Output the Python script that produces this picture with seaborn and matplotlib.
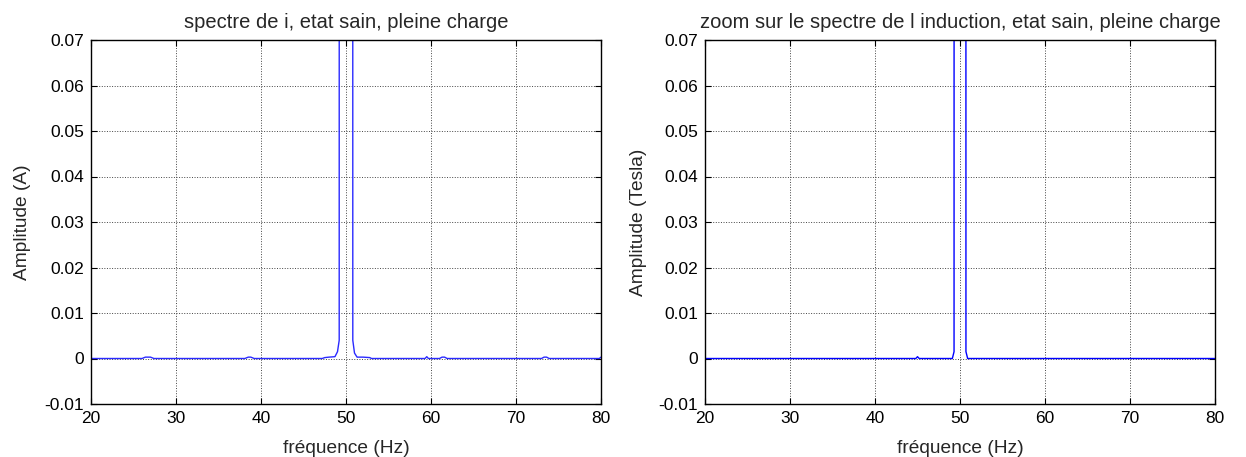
import matplotlib
matplotlib.use("Agg")
import matplotlib.pyplot as plt
import seaborn as sns
import pandas as pd

# Current spectrum (A), healthy state, full load
freq_i = [20.0, 26.0, 26.4, 26.7, 27.0, 27.4, 38.1, 38.5, 38.8, 39.2,
          47.2, 47.5, 48.0, 48.7, 49.0, 49.2, 49.3, 50.0, 50.7, 50.8,
          51.0, 51.3, 52.0, 52.8, 53.0, 59.3, 59.5, 59.7, 61.0, 61.3,
          61.6, 61.9, 73.0, 73.3, 73.6, 73.9, 79.8, 80.0]
amp_i = [0.0, 0.0, 0.0003, 0.0003, 0.0003, 0.0, 0.0, 0.0003, 0.0003, 0.0,
         0.0, 0.0002, 0.0003, 0.0004, 0.0015, 0.004, 2.5, 5.0, 2.5, 0.004,
         0.0012, 0.0003, 0.0003, 0.0002, 0.0, 0.0, 0.0004, 0.0, 0.0, 0.0003,
         0.0003, 0.0, 0.0, 0.0003, 0.0003, 0.0, 0.0, 0.0003]

# Induction spectrum (T), healthy state, full load
freq_b = [20.0, 44.8, 45.0, 45.2, 49.1, 49.3, 49.4, 50.0, 50.6, 50.7,
          50.9, 80.0]
amp_b = [0.0, 0.0, 0.0004, 0.0, 0.0, 0.0015, 2.0, 4.0, 2.0, 0.0015,
         0.0, 0.0]

x_ticks = [20, 30, 40, 50, 60, 70, 80]
y_ticks = [-0.01, 0, 0.01, 0.02, 0.03, 0.04, 0.05, 0.06, 0.07]
y_ticklabels = ["-0.01", "0", "0.01", "0.02", "0.03", "0.04", "0.05", "0.06", "0.07"]

sns.set_theme(style="white")
plt.rcParams["font.family"] = ["Liberation Sans", "DejaVu Sans"]
plt.rcParams["xtick.direction"] = "in"
plt.rcParams["ytick.direction"] = "in"

fig = plt.figure(figsize=(12.46, 4.57), dpi=100)
W, H = 1246, 457
ax1 = fig.add_axes([91 / W, (H - 404) / H, 510 / W, 364 / H])
ax2 = fig.add_axes([705 / W, (H - 404) / H, 510 / W, 364 / H])

df_i = pd.DataFrame({"f": freq_i, "a": amp_i})
df_b = pd.DataFrame({"f": freq_b, "a": amp_b})

sns.lineplot(data=df_i, x="f", y="a", ax=ax1, color="#2a2aff", linewidth=1.0)
sns.lineplot(data=df_b, x="f", y="a", ax=ax2, color="#0000ff", linewidth=1.0)

panels = [
    (ax1, "spectre de i, etat sain, pleine charge", "Amplitude (A)", 10),
    (ax2, "zoom sur le spectre de l induction, etat sain, pleine charge", "Amplitude (Tesla)", 8),
]
fs = 12.5
fl = 13.8
ft = 14.5
for ax, title, ylabel, ypad in panels:
    ax.set_xlim(20, 80)
    ax.set_ylim(-0.01, 0.07)
    ax.set_xticks(x_ticks)
    ax.set_xticklabels([str(t) for t in x_ticks], fontsize=fs)
    ax.set_yticks(y_ticks)
    ax.set_yticklabels(y_ticklabels, fontsize=fs)
    ax.set_title(title, fontsize=ft, pad=9)
    ax.set_xlabel("fréquence (Hz)", fontsize=fl, labelpad=10)
    ax.set_ylabel(ylabel, fontsize=fl, labelpad=ypad)
    ax.grid(True, color="#444444", linestyle=":", linewidth=0.7)
    ax.set_axisbelow(True)
    ax.tick_params(axis="both", which="both", direction="in", length=4,
                   width=0.8, color="black", top=True, right=True,
                   bottom=True, left=True, pad=5, labelcolor="black")
    for s in ax.spines.values():
        s.set_visible(True)
        s.set_color("black")
        s.set_linewidth(1.0)

fig.savefig("out.png", dpi=100, facecolor="white")
